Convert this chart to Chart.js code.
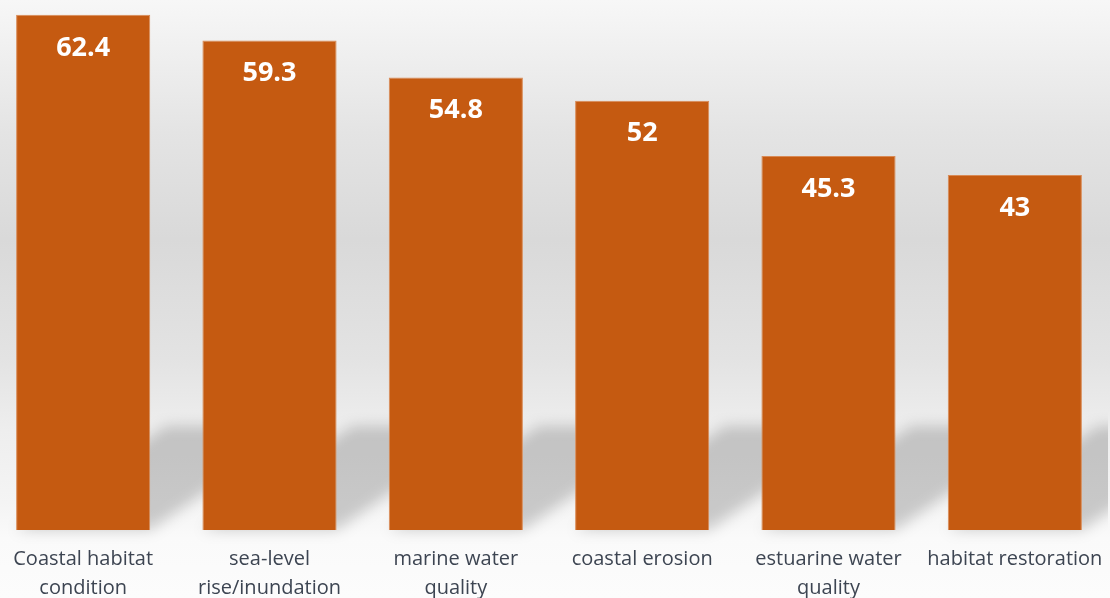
<!DOCTYPE html>
<html>
<head>
<meta charset="utf-8">
<script src="https://cdn.jsdelivr.net/npm/chart.js@4.4.1/dist/chart.umd.min.js"></script>
<style>
  html, body { margin: 0; padding: 0; overflow: hidden; }
  body {
    width: 1110px; height: 598px; position: relative;
    background: linear-gradient(to bottom, #f7f7f7 0%, #e4e4e4 22%, #d9d9d9 40%, #e3e3e3 60%, #eeeeee 72%, #f4f4f4 84%, #fafafa 90%, #fcfcfc 100%);
  }
  #wrap { position: absolute; left: -10px; top: 0; width: 1118px; height: 598px; }
</style>
</head>
<body>
<div id="wrap"><canvas id="chart"></canvas></div>
<script>
// categories and values
const categories = [
  ['Coastal habitat', 'condition'],
  ['sea-level', 'rise/inundation'],
  ['marine water', 'quality'],
  ['coastal erosion'],
  ['estuarine water', 'quality'],
  ['habitat restoration']
];
const scores = [62.4, 59.3, 54.8, 52, 45.3, 43];

const barColor = '#c55a11';

// soft floor shadow behind each bar, skewed up to the right
const floorShadow = {
  id: 'floorShadow',
  beforeDatasetsDraw(chart) {
    const ctx = chart.ctx;
    const meta = chart.getDatasetMeta(0);
    ctx.save();
    ctx.filter = 'blur(7px)';
    ctx.fillStyle = 'rgba(0,0,0,0.18)';
    meta.data.forEach(bar => {
      const x0 = bar.x - bar.width / 2;
      const x1 = bar.x + bar.width / 2;
      const dy = 104, dx = 150;
      ctx.beginPath();
      ctx.moveTo(x0, bar.base);
      ctx.lineTo(x1, bar.base);
      ctx.lineTo(x1 + dx, bar.base - dy);
      ctx.lineTo(x0 + dx, bar.base - dy);
      ctx.closePath();
      ctx.fill();
    });
    ctx.restore();
  }
};

// white value labels inside the top of the bars
const valueLabels = {
  id: 'valueLabels',
  afterDatasetsDraw(chart) {
    const ctx = chart.ctx;
    const meta = chart.getDatasetMeta(0);
    ctx.save();
    ctx.fillStyle = '#ffffff';
    ctx.font = 'bold 27px "Open Sans", sans-serif';
    ctx.textAlign = 'center';
    ctx.textBaseline = 'middle';
    meta.data.forEach((bar, i) => {
      ctx.fillText(String(scores[i]), bar.x, bar.y + 33);
    });
    ctx.restore();
  }
};

new Chart(document.getElementById('chart'), {
  type: 'bar',
  data: {
    labels: categories,
    datasets: [{
      data: scores,
      backgroundColor: barColor,
      borderColor: '#d98a55',
      borderWidth: 1,
      barPercentage: 0.72,
      categoryPercentage: 1
    }]
  },
  options: {
    responsive: true,
    maintainAspectRatio: false,
    animation: false,
    layout: { padding: 0 },
    plugins: {
      legend: { display: false },
      tooltip: { enabled: false }
    },
    scales: {
      y: { display: false, min: 0, max: 64.2 },
      x: {
        grid: { display: false, drawTicks: false },
        border: { display: false },
        ticks: {
          color: '#3d4552',
          padding: 15,
          maxRotation: 0,
          autoSkip: false,
          font: { family: '"Open Sans", sans-serif', size: 20, lineHeight: 1.45 }
        },
        afterFit(scale) {
          scale.height = 68;
          // labels may run past the edges; keep the plot full width
          scale.paddingLeft = 0;
          scale.paddingRight = 0;
        }
      }
    }
  },
  plugins: [floorShadow, valueLabels]
});
</script>
</body>
</html>
